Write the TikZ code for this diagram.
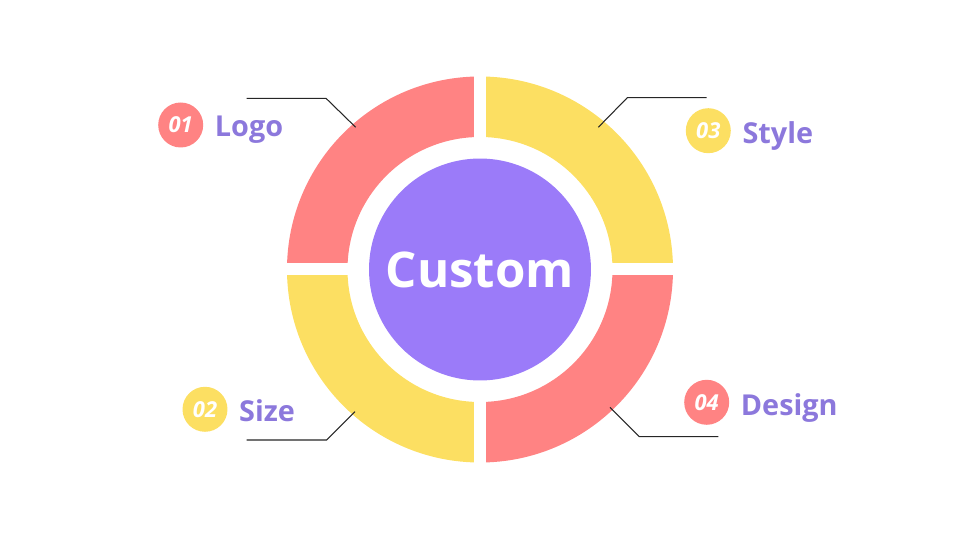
\documentclass[tikz,border=0pt]{standalone}
\usepackage{fontspec}
\setmainfont{Open Sans}
\usetikzlibrary{positioning,calc}
\definecolor{coral}{HTML}{FF8383}
\definecolor{sun}{HTML}{FCDF62}
\definecolor{core}{HTML}{9B7BF9}
\definecolor{ink}{HTML}{8C78DC}

\begin{document}
\begin{tikzpicture}[x=0.02cm,y=0.02cm,
  badge/.style={circle,inner sep=0pt,minimum size=0.9cm,text=white,
    font=\fontsize{12.5}{14}\selectfont\bfseries\itshape},
  tag/.style={inner sep=0pt,text=ink,anchor=base west,
    font=\fontsize{16.4}{19}\selectfont\bfseries},
  leader/.style={line width=0.6pt,black!85}]
  \useasboundingbox (-480,-270.5) rectangle (480,269.5);
  % ring quadrants
  \foreach \sx/\sy/\col in {-1/1/coral,1/1/sun,-1/-1/sun,1/-1/coral}{
    \begin{scope}
      \clip (6*\sx,6.5*\sy) rectangle (200*\sx,200*\sy);
      \fill[\col,even odd rule] (0,0) circle (193) (0,0) circle (132.5);
    \end{scope}
  }
  \node[circle,fill=core,minimum size=4.44cm,inner sep=0pt,text=white,
    font=\fontsize{28}{32}\selectfont\bfseries] (custom) at (0,0) {Custom};
  % badges and labels
  \node[badge,fill=coral] (b1) at (-299.3,144.5) {01};
  \node[badge,fill=sun]   (b2) at (-275,-139.8) {02};
  \node[badge,fill=sun]   (b3) at (228.3,138.8) {03};
  \node[badge,fill=coral] (b4) at (226.7,-132.8) {04};
  \node[tag] (logo)   at ($(b1.east)+(11,-11.5)$) {Logo};
  \node[tag] (size)   at ($(b2.east)+(11,-12.5)$) {Size};
  \node[tag] (style)  at ($(b3.east)+(11,-12.5)$) {Style};
  \node[tag] (design) at ($(b4.east)+(11,-13)$) {Design};
  % leaders
  \coordinate (p1) at (-124.3,142.2); \coordinate (e1) at (-233.3,171.2);
  \coordinate (p2) at (-125,-142.2);  \coordinate (e2) at (-233.3,-170.5);
  \coordinate (p3) at (118.3,142.2);  \coordinate (e3) at (226.7,171.8);
  \coordinate (p4) at (130,-137.8);   \coordinate (e4) at (238.3,-167.2);
  \draw[leader] (p1) -- (-154,171.2) -- (e1);
  \draw[leader] (p2) -- (-153.3,-170.5) -- (e2);
  \draw[leader] (p3) -- (147.3,171.8) -- (e3);
  \draw[leader] (p4) -- (159.3,-167.2) -- (e4);
\end{tikzpicture}
\end{document}
